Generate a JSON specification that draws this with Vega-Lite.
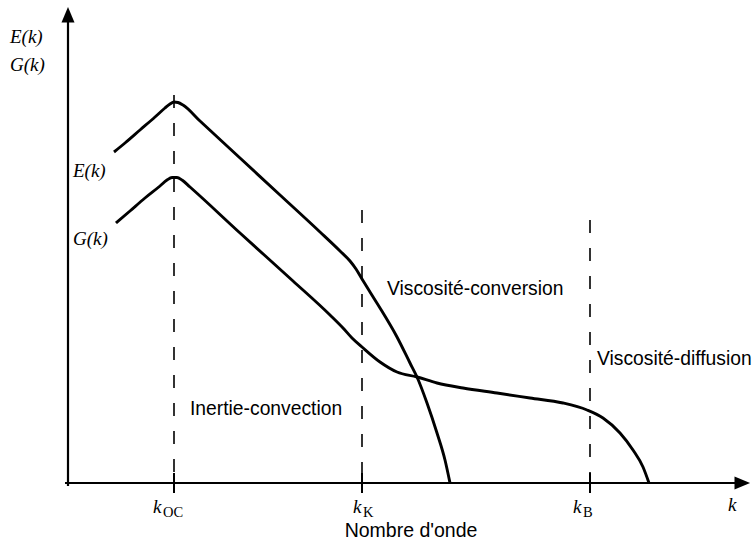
{
  "$schema": "https://vega.github.io/schema/vega-lite/v6.json",
  "width": 755,
  "height": 542,
  "padding": 0,
  "autosize": {"type": "none"},
  "background": "white",
  "config": {"view": {"stroke": null}},
  "datasets": {
    "curves": [
      {"curve": "E", "k": 46, "v": 331}, {"curve": "E", "k": 57, "v": 340}, {"curve": "E", "k": 72, "v": 353},
      {"curve": "E", "k": 87, "v": 366}, {"curve": "E", "k": 97, "v": 375}, {"curve": "E", "k": 102, "v": 379},
      {"curve": "E", "k": 106, "v": 381}, {"curve": "E", "k": 110, "v": 380.5}, {"curve": "E", "k": 115, "v": 378},
      {"curve": "E", "k": 132, "v": 362}, {"curve": "E", "k": 172, "v": 325}, {"curve": "E", "k": 212, "v": 288},
      {"curve": "E", "k": 252, "v": 251}, {"curve": "E", "k": 272, "v": 232}, {"curve": "E", "k": 282, "v": 222},
      {"curve": "E", "k": 288, "v": 214}, {"curve": "E", "k": 294, "v": 204}, {"curve": "E", "k": 302, "v": 191},
      {"curve": "E", "k": 312, "v": 175}, {"curve": "E", "k": 329, "v": 146}, {"curve": "E", "k": 342, "v": 120},
      {"curve": "E", "k": 349, "v": 106}, {"curve": "E", "k": 359, "v": 80}, {"curve": "E", "k": 369, "v": 50},
      {"curve": "E", "k": 377, "v": 23}, {"curve": "E", "k": 382, "v": 0},
      {"curve": "G", "k": 48, "v": 260}, {"curve": "G", "k": 62, "v": 272}, {"curve": "G", "k": 77, "v": 285},
      {"curve": "G", "k": 92, "v": 297}, {"curve": "G", "k": 99, "v": 303}, {"curve": "G", "k": 104, "v": 305.5},
      {"curve": "G", "k": 109, "v": 305.5}, {"curve": "G", "k": 114, "v": 303}, {"curve": "G", "k": 122, "v": 296},
      {"curve": "G", "k": 172, "v": 250}, {"curve": "G", "k": 225, "v": 202}, {"curve": "G", "k": 262, "v": 168},
      {"curve": "G", "k": 275, "v": 155}, {"curve": "G", "k": 284, "v": 145}, {"curve": "G", "k": 294, "v": 136},
      {"curve": "G", "k": 312, "v": 121}, {"curve": "G", "k": 329, "v": 111}, {"curve": "G", "k": 349, "v": 106},
      {"curve": "G", "k": 369, "v": 100}, {"curve": "G", "k": 395, "v": 95}, {"curve": "G", "k": 429, "v": 90},
      {"curve": "G", "k": 462, "v": 85}, {"curve": "G", "k": 495, "v": 80}, {"curve": "G", "k": 519, "v": 73},
      {"curve": "G", "k": 535, "v": 65}, {"curve": "G", "k": 552, "v": 50}, {"curve": "G", "k": 565, "v": 33},
      {"curve": "G", "k": 575, "v": 16}, {"curve": "G", "k": 581, "v": 0}
    ],
    "marks": [
      {"name": "kOC", "k": 106, "top": 388, "bottom": 0, "tickTop": 10, "tickBottom": -10, "labelX": 85, "labelY": -30, "subX": 95, "subY": -34, "sub": "OC"},
      {"name": "kK", "k": 294, "top": 273, "bottom": 0, "tickTop": 10, "tickBottom": -10, "labelX": 285, "labelY": -30, "subX": 295, "subY": -34, "sub": "K"},
      {"name": "kB", "k": 522, "top": 263, "bottom": 0, "tickTop": 10, "tickBottom": -10, "labelX": 505, "labelY": -30, "subX": 515, "subY": -34, "sub": "B"}
    ]
  },
  "layer": [
    {
      "data": {"values": [
        {"x": -3, "y": 0, "x2": 672, "y2": 0},
        {"x": 0, "y": -3, "x2": 0, "y2": 462}
      ]},
      "mark": {"type": "rule", "strokeWidth": 2.2, "color": "black"},
      "encoding": {
        "x": {"field": "x", "type": "quantitative", "scale": {"domain": [-68, 687], "nice": false, "zero": false}, "axis": null},
        "y": {"field": "y", "type": "quantitative", "scale": {"domain": [-59, 483], "nice": false, "zero": false}, "axis": null},
        "x2": {"field": "x2"},
        "y2": {"field": "y2"}
      }
    },
    {
      "data": {"values": [{"x": 0, "y": 467}]},
      "mark": {"type": "point", "shape": "M-1,1L0,-1.4L1,1Z", "filled": true, "color": "black", "opacity": 1, "size": 169},
      "encoding": {
        "x": {"field": "x", "type": "quantitative", "axis": null},
        "y": {"field": "y", "type": "quantitative", "axis": null}
      }
    },
    {
      "data": {"values": [{"x": 673, "y": 0}]},
      "mark": {"type": "point", "shape": "M-1,-1L1.4,0L-1,1Z", "filled": true, "color": "black", "opacity": 1, "size": 169},
      "encoding": {
        "x": {"field": "x", "type": "quantitative", "axis": null},
        "y": {"field": "y", "type": "quantitative", "axis": null}
      }
    },
    {
      "data": {"name": "marks"},
      "mark": {"type": "rule", "strokeWidth": 1.6, "color": "black", "strokeDash": [13, 15]},
      "encoding": {
        "x": {"field": "k", "type": "quantitative", "axis": null},
        "y": {"field": "top", "type": "quantitative", "axis": null},
        "y2": {"field": "bottom"}
      }
    },
    {
      "data": {"name": "marks"},
      "mark": {"type": "rule", "strokeWidth": 2, "color": "black"},
      "encoding": {
        "x": {"field": "k", "type": "quantitative", "axis": null},
        "y": {"field": "tickTop", "type": "quantitative", "axis": null},
        "y2": {"field": "tickBottom"}
      }
    },
    {
      "data": {"name": "curves"},
      "mark": {"type": "line", "strokeWidth": 2.9, "color": "black", "interpolate": "monotone"},
      "encoding": {
        "x": {"field": "k", "type": "quantitative", "axis": null},
        "y": {"field": "v", "type": "quantitative", "axis": null},
        "detail": {"field": "curve", "type": "nominal"}
      }
    },
    {
      "data": {"values": [
        {"t": "Viscosité-conversion", "x": 319, "y": 188},
        {"t": "Viscosité-diffusion", "x": 529, "y": 118},
        {"t": "Inertie-convection", "x": 122, "y": 68}
      ]},
      "mark": {"type": "text", "font": "Liberation Sans", "fontSize": 19.3, "align": "left", "baseline": "alphabetic", "color": "black"},
      "encoding": {
        "x": {"field": "x", "type": "quantitative", "axis": null},
        "y": {"field": "y", "type": "quantitative", "axis": null},
        "text": {"field": "t", "type": "nominal"}
      }
    },
    {
      "data": {"values": [{"t": "Nombre d'onde", "x": 343, "y": -54}]},
      "mark": {"type": "text", "font": "Liberation Sans", "fontSize": 19.5, "align": "center", "baseline": "alphabetic", "color": "black"},
      "encoding": {
        "x": {"field": "x", "type": "quantitative", "axis": null},
        "y": {"field": "y", "type": "quantitative", "axis": null},
        "text": {"field": "t", "type": "nominal"}
      }
    },
    {
      "data": {"values": [
        {"t": "E(k)", "x": -58, "y": 440},
        {"t": "G(k)", "x": -58, "y": 412},
        {"t": "E(k)", "x": 5, "y": 306},
        {"t": "G(k)", "x": 5, "y": 238},
        {"t": "k", "x": 660, "y": -28}
      ]},
      "mark": {"type": "text", "font": "Liberation Serif", "fontStyle": "italic", "fontSize": 19, "align": "left", "baseline": "alphabetic", "color": "black"},
      "encoding": {
        "x": {"field": "x", "type": "quantitative", "axis": null},
        "y": {"field": "y", "type": "quantitative", "axis": null},
        "text": {"field": "t", "type": "nominal"}
      }
    },
    {
      "data": {"name": "marks"},
      "mark": {"type": "text", "font": "Liberation Serif", "fontStyle": "italic", "fontSize": 19, "align": "left", "baseline": "alphabetic", "color": "black", "text": "k"},
      "encoding": {
        "x": {"field": "labelX", "type": "quantitative", "axis": null},
        "y": {"field": "labelY", "type": "quantitative", "axis": null}
      }
    },
    {
      "data": {"name": "marks"},
      "mark": {"type": "text", "font": "Liberation Serif", "fontSize": 14.5, "align": "left", "baseline": "alphabetic", "color": "black"},
      "encoding": {
        "x": {"field": "subX", "type": "quantitative", "axis": null},
        "y": {"field": "subY", "type": "quantitative", "axis": null},
        "text": {"field": "sub", "type": "nominal"}
      }
    }
  ]
}
